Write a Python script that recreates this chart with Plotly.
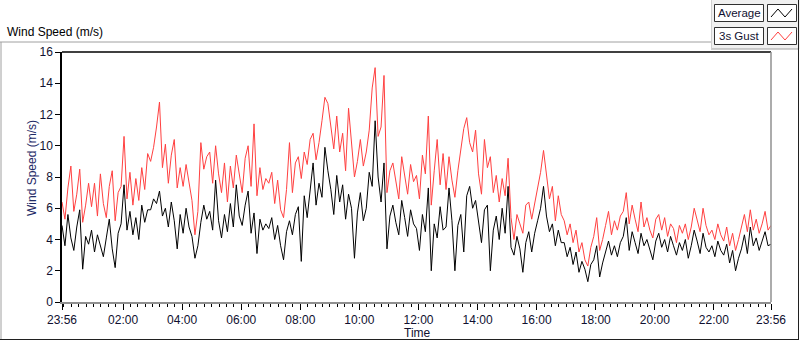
import pandas as pd
import plotly.graph_objects as go

# ---- data (one value every 6 minutes) ----
start_time = "2000-01-01 23:56"
end_time = "2000-01-02 23:56"
step_minutes = 6

avg_speed = [
    4.9, 3.6, 5.6, 4.1, 3.3, 4.8, 5.9, 2.1, 4.2, 3.7,
    4.6, 3.2, 4.3, 3.5, 2.9, 4.1, 5.3, 3.4, 2.2, 4.4,
    5.0, 7.5, 4.6, 5.8, 4.3, 5.4, 4.0, 6.2, 5.1, 5.9,
    5.9, 6.6, 6.3, 7.1, 5.5, 6.0, 4.8, 6.4, 5.2, 3.4,
    5.6, 4.4, 6.0, 4.8, 4.2, 2.8, 3.6, 5.1, 6.2, 5.3,
    5.8, 4.6, 7.8, 5.2, 4.1, 5.6, 4.5, 6.3, 4.8, 7.5,
    5.5, 4.9, 6.2, 7.1, 4.4, 5.7, 3.1, 5.3, 4.6, 5.0,
    4.7, 5.4, 4.0, 4.9, 3.6, 2.7, 4.5, 5.2, 4.3, 5.6,
    6.1, 2.6, 6.8, 5.4, 7.3, 8.9, 6.2, 7.6, 6.7, 9.9,
    8.4, 7.2, 5.6, 8.1, 6.4, 7.5, 5.3, 6.9, 6.0, 2.8,
    5.7, 7.0, 5.2, 6.0, 8.3, 7.4, 11.6, 8.0, 6.4, 8.9,
    3.4, 5.5, 6.2, 5.1, 4.3, 6.5, 5.4, 4.2, 5.9, 5.0,
    4.7, 3.3, 5.6, 4.5, 7.3, 2.0, 5.0, 4.1, 6.1, 4.6,
    4.8, 7.3, 5.2, 2.0, 4.9, 5.6, 3.2, 6.8, 7.4, 6.0,
    6.5, 5.0, 3.8, 5.9, 6.2, 2.0, 4.6, 5.5, 4.0, 6.0,
    4.4, 7.4, 3.5, 3.0, 4.2, 3.4, 1.9, 3.8, 4.5, 3.2,
    4.4, 5.2, 6.0, 7.4, 5.5, 4.5, 5.0, 3.6, 4.6, 3.8,
    3.8, 2.9, 3.5, 2.4, 3.2, 1.9, 2.6, 2.1, 1.3, 2.4,
    2.7, 3.6, 1.6, 2.5, 3.3, 3.9, 3.0, 3.6, 2.9, 3.8,
    4.2, 5.4, 3.3, 4.5, 3.8, 3.1, 4.4, 3.6, 4.0, 3.4,
    2.7, 3.9, 4.4, 3.5, 4.0, 3.2, 4.2, 3.6, 3.0, 3.8,
    3.3, 4.0, 2.8, 3.6, 4.6, 3.9, 3.1, 4.4, 3.5, 3.2,
    3.6, 2.9, 3.9, 3.3, 3.0, 3.7, 2.5, 3.3, 2.0, 2.8,
    3.4, 4.3, 3.1, 4.8, 3.6, 4.1, 3.3, 3.9, 4.5, 3.6,
    3.7,
]

gust_speed = [
    6.4, 5.3, 7.3, 8.7, 5.8, 6.9, 8.5, 5.1, 6.2, 7.6,
    6.1, 7.6, 5.5, 8.2, 6.3, 5.4, 7.4, 8.4, 5.2, 7.0,
    7.4, 10.6, 6.6, 8.3, 6.2, 7.9, 6.5, 8.6, 7.2, 9.5,
    9.0, 9.9, 11.2, 12.8, 8.6, 10.1, 7.6, 9.4, 10.4, 7.3,
    8.6, 7.4, 8.8, 7.6, 6.5, 4.3, 5.8, 10.2, 8.5, 9.3,
    9.6, 7.6, 10.0, 8.2, 7.0, 8.9, 6.4, 8.7, 7.3, 9.4,
    8.3, 7.0, 9.2, 10.0, 7.4, 11.4, 6.8, 8.6, 7.2, 7.9,
    7.6, 8.3, 6.3, 7.8, 5.9, 5.4, 7.2, 10.2, 7.0, 8.9,
    9.3, 7.9, 9.6, 8.8, 10.4, 10.8, 9.1, 10.2, 11.6, 13.1,
    12.7, 11.2, 9.8, 11.9, 9.6, 10.8, 8.4, 12.4, 10.2, 8.0,
    9.0, 10.4, 8.7, 9.6, 11.0, 13.7, 15.0, 10.6, 11.2, 14.5,
    7.0, 8.4, 8.9, 7.6, 6.6, 9.3, 8.1, 6.9, 8.8, 7.7,
    8.1, 6.6, 9.4, 8.2, 11.9, 6.2, 8.4, 10.4, 7.5, 9.5,
    7.2, 9.3, 7.8, 6.7, 8.4, 9.6, 11.1, 11.8, 10.2, 9.6,
    11.0, 8.2, 6.9, 10.4, 8.6, 9.3, 7.0, 8.1, 6.4, 7.9,
    6.8, 9.2, 5.4, 4.0, 5.6, 5.0, 4.4, 6.2, 6.4, 5.3,
    6.3, 7.2, 8.3, 9.7, 8.0, 6.6, 7.4, 5.2, 6.8, 5.6,
    5.2, 4.3, 5.0, 3.8, 4.6, 3.2, 3.8, 2.7, 2.3, 3.5,
    4.2, 5.4, 3.3, 4.0, 4.9, 5.8, 4.3, 5.2, 4.6, 5.5,
    5.8, 7.0, 5.0, 6.2, 5.3, 4.5, 6.4, 4.8, 5.4, 4.6,
    4.1, 5.3, 5.6, 4.6, 5.4, 4.2, 5.0, 4.7, 3.8, 4.9,
    4.4, 5.0, 4.0, 4.8, 6.0, 5.2, 4.5, 6.0, 4.9, 4.3,
    4.6, 4.0, 5.0, 4.3, 3.9, 4.8, 3.6, 4.4, 3.3, 4.0,
    4.8, 5.6, 4.5, 5.9, 4.6, 5.3, 4.4, 5.0, 5.8, 4.6,
    4.9,
]

y_ticks = [0, 2, 4, 6, 8, 10, 12, 14, 16]
x_tick_times = ["2000-01-01 23:56", "2000-01-02 02:00", "2000-01-02 04:00",
                "2000-01-02 06:00", "2000-01-02 08:00", "2000-01-02 10:00",
                "2000-01-02 12:00", "2000-01-02 14:00", "2000-01-02 16:00",
                "2000-01-02 18:00", "2000-01-02 20:00", "2000-01-02 22:00",
                "2000-01-02 23:56"]
x_tick_labels = ["23:56", "02:00", "04:00", "06:00", "08:00", "10:00", "12:00",
                 "14:00", "16:00", "18:00", "20:00", "22:00", "23:56"]

times = pd.date_range(start_time, periods=len(avg_speed), freq=f"{step_minutes}min")

# ---- figure ----
W, H = 800, 342
L, R, T, B = 62, 771, 52, 302
FONT = "Liberation Sans, Arial, sans-serif"
TXT = "#101030"


def px(x):
    return (x - L) / (R - L)


def py(y):
    return (B - y) / (B - T)


fig = go.Figure()
fig.add_trace(go.Scatter(x=times, y=gust_speed, mode="lines", name="3s Gust",
                         line=dict(color="#ff4040", width=1)))
fig.add_trace(go.Scatter(x=times, y=avg_speed, mode="lines", name="Average",
                         line=dict(color="#000000", width=1)))

shapes = []
# outer frame
shapes.append(dict(type="line", xref="paper", yref="paper", x0=px(0), x1=px(712), y0=py(42), y1=py(42),
                   line=dict(color="#a0a0a0", width=1)))
shapes.append(dict(type="line", xref="paper", yref="paper", x0=px(1), x1=px(1), y0=py(42), y1=py(339),
                   line=dict(color="#a0a0a0", width=1)))
shapes.append(dict(type="line", xref="paper", yref="paper", x0=px(0), x1=px(799), y0=py(339.5), y1=py(339.5),
                   line=dict(color="#202020", width=1)))
# legend panel
shapes.append(dict(type="rect", xref="paper", yref="paper", x0=px(711), x1=px(800), y0=py(0), y1=py(49),
                   fillcolor="#f0f0f0", line=dict(width=0), layer="below"))
shapes.append(dict(type="line", xref="paper", yref="paper", x0=px(711), x1=px(798), y0=py(49), y1=py(49),
                   line=dict(color="#a0a0a0", width=1)))
shapes.append(dict(type="line", xref="paper", yref="paper", x0=px(711.5), x1=px(711.5), y0=py(0), y1=py(49),
                   line=dict(color="#d0d0d0", width=1)))
shapes.append(dict(type="line", xref="paper", yref="paper", x0=px(798.5), x1=px(798.5), y0=py(0), y1=py(339.5),
                   line=dict(color="#202020", width=1)))
# legend boxes
for (ytop, color) in [(4, "#000000"), (27, "#ff4040")]:
    shapes.append(dict(type="rect", xref="paper", yref="paper", x0=px(714.5), x1=px(763.5),
                       y0=py(ytop + 0.5), y1=py(ytop + 17.5), fillcolor="white",
                       line=dict(color="#303030", width=1)))
    shapes.append(dict(type="rect", xref="paper", yref="paper", x0=px(767.5), x1=px(796.5),
                       y0=py(ytop + 0.5), y1=py(ytop + 17.5), fillcolor="white",
                       line=dict(color="#303030", width=1)))
    pts = [(771, ytop + 13), (778, ytop + 5), (785, ytop + 13), (792, ytop + 5)]
    path = "M " + " L ".join(f"{px(a):.5f},{py(b):.5f}" for a, b in pts)
    shapes.append(dict(type="path", xref="paper", yref="paper", path=path,
                       line=dict(color=color, width=1)))
# plot area border (top/left dark, bottom/right grey)
shapes.append(dict(type="line", xref="paper", yref="paper", x0=0, x1=1, y0=1, y1=1,
                   line=dict(color="#000000", width=1.5)))
shapes.append(dict(type="line", xref="paper", yref="paper", x0=1, x1=1, y0=0, y1=1,
                   line=dict(color="#909090", width=1.5)))

annotations = [
    dict(text="Wind Speed (m/s)", xref="paper", yref="paper", x=px(5), y=py(32),
         xanchor="left", yanchor="middle", showarrow=False,
         font=dict(family=FONT, size=12, color="#000000")),
    dict(text="Average", xref="paper", yref="paper", x=px(739), y=py(13),
         xanchor="center", yanchor="middle", showarrow=False,
         font=dict(family=FONT, size=11.5, color=TXT)),
    dict(text="3s Gust", xref="paper", yref="paper", x=px(739), y=py(36),
         xanchor="center", yanchor="middle", showarrow=False,
         font=dict(family=FONT, size=11.5, color=TXT)),
    dict(text="Wind Speed (m/s)", xref="paper", yref="paper", x=px(32), y=py(168),
         xanchor="center", yanchor="middle", showarrow=False, textangle=-90,
         font=dict(family=FONT, size=12, color="#1e2a66")),
    dict(text="Time", xref="paper", yref="paper", x=px(417), y=py(333),
         xanchor="center", yanchor="middle", showarrow=False,
         font=dict(family=FONT, size=12, color=TXT)),
]

fig.update_layout(
    width=W, height=H,
    margin=dict(l=L, r=W - R, t=T, b=H - B, pad=0),
    paper_bgcolor="white", plot_bgcolor="white",
    showlegend=False,
    shapes=shapes, annotations=annotations,
    font=dict(family=FONT, size=12, color=TXT),
)
fig.update_xaxes(
    type="date", range=[start_time, end_time],
    tickmode="array", tickvals=x_tick_times, ticktext=x_tick_labels,
    ticks="outside", ticklen=6, tickcolor="#000000", tickwidth=1,
    minor=dict(ticks="outside", ticklen=3, tickcolor="#000000", tickwidth=1,
               dtick=15 * 60 * 1000, tick0="2000-01-02 00:00", showgrid=False),
    showgrid=False, zeroline=False,
    showline=True, linecolor="#909090", linewidth=1.5,
    tickfont=dict(family=FONT, size=12, color=TXT),
)
fig.update_yaxes(
    range=[0, 16], tickmode="array", tickvals=y_ticks,
    ticks="outside", ticklen=5, tickcolor="#000000", tickwidth=1,
    showgrid=False, zeroline=False,
    showline=True, linecolor="#000000", linewidth=1.5,
    tickfont=dict(family=FONT, size=12, color=TXT),
)

fig.write_html(
    "out.html",
    config={"displayModeBar": False},
    post_script="document.body.style.margin='0';document.body.style.overflow='hidden';",
)
